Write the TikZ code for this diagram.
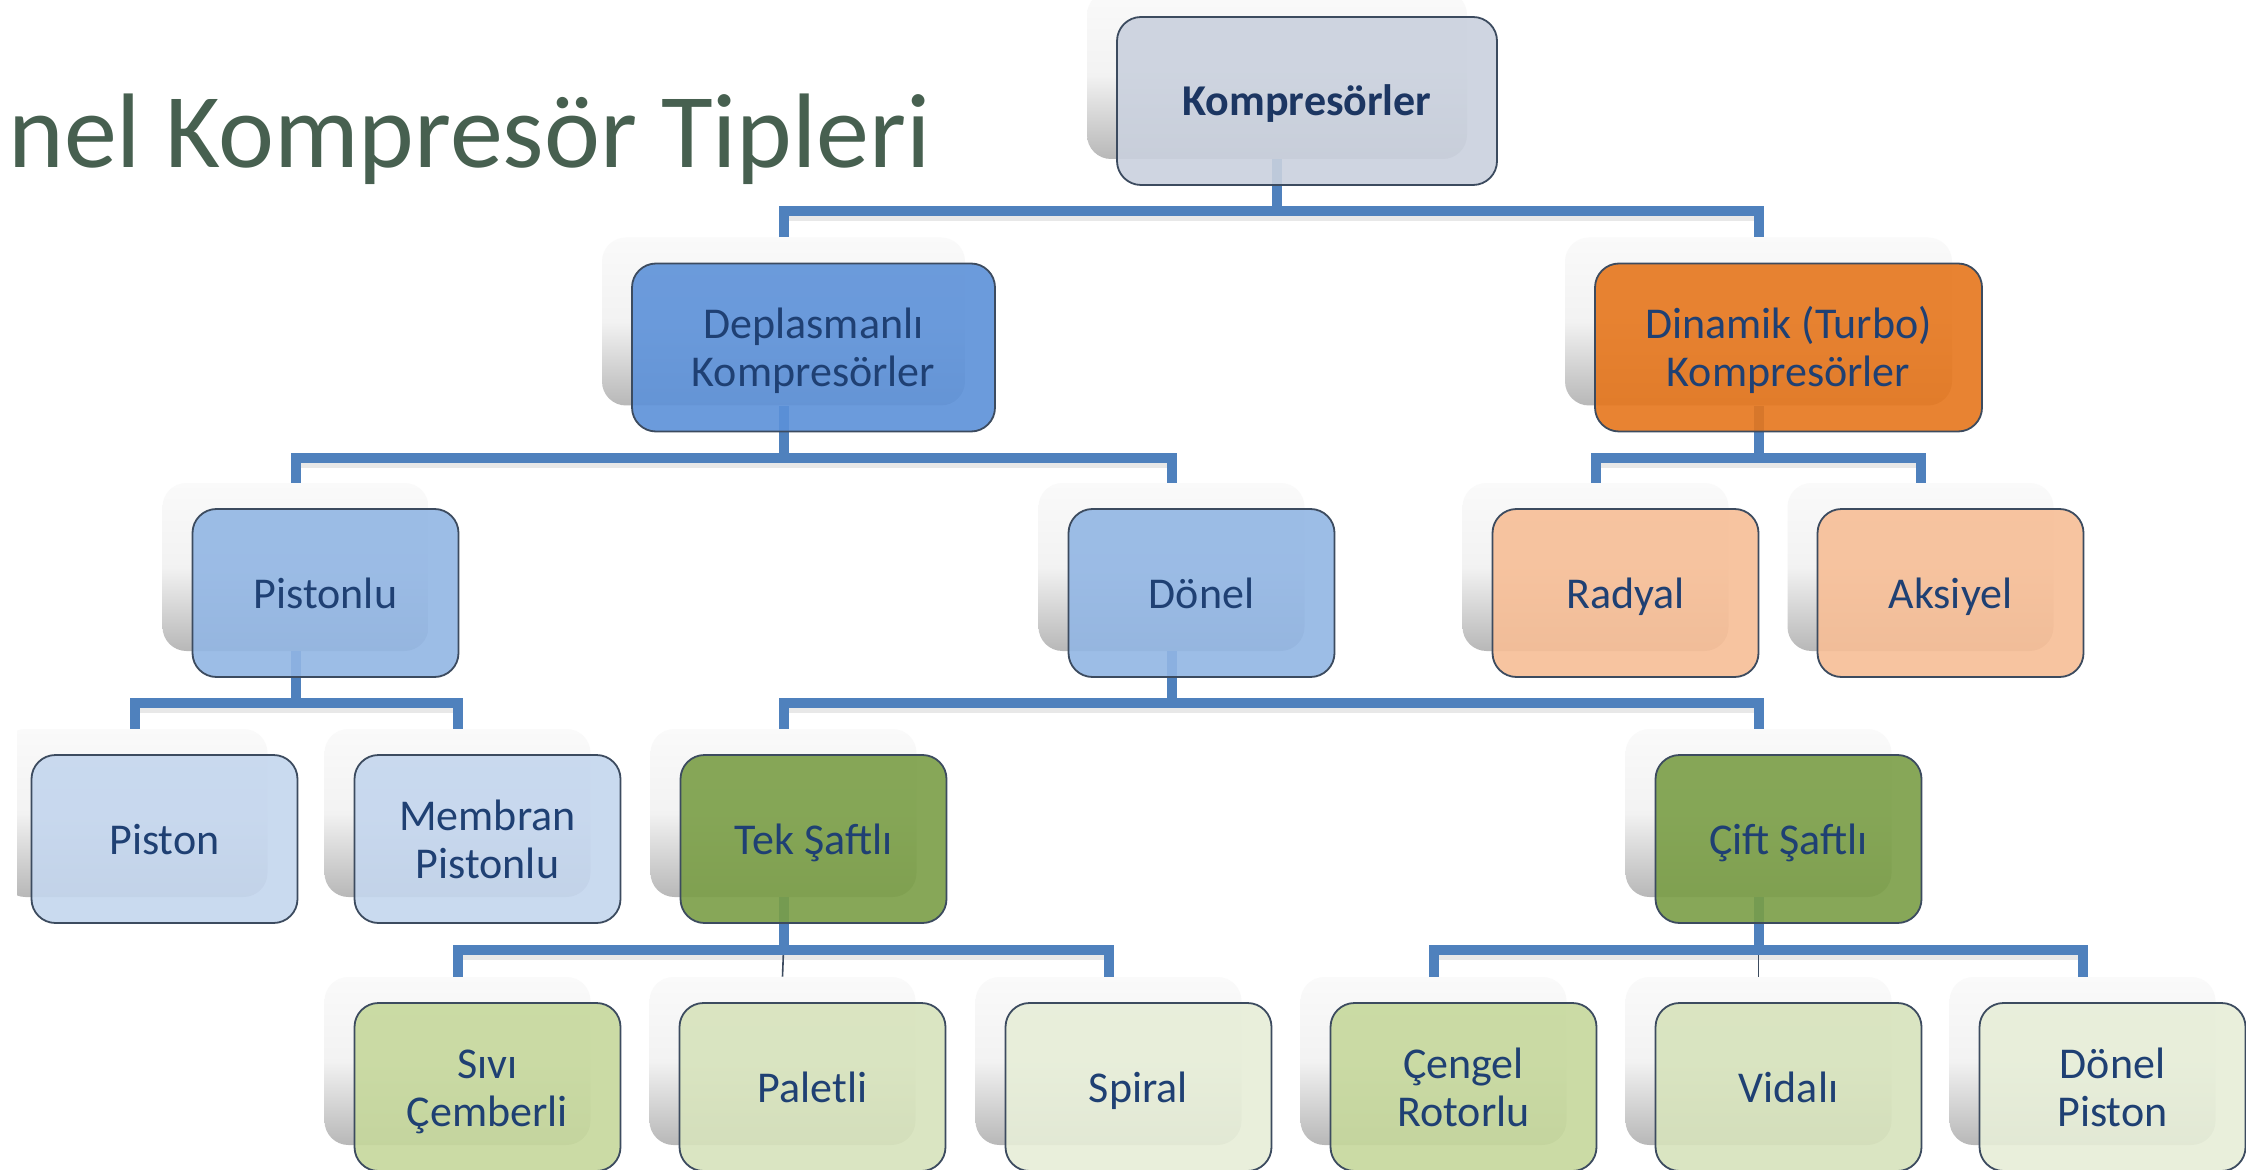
\documentclass[tikz,border=0pt]{standalone}
\usepackage{fontspec}
\setmainfont{Carlito}
\usetikzlibrary{calc}
\definecolor{titlecol}{RGB}{71,96,80}
\definecolor{txtcol}{RGB}{31,64,115}
\definecolor{txtbold}{RGB}{28,54,98}
\definecolor{bordcol}{RGB}{60,75,95}
\definecolor{conncol}{RGB}{79,129,189}
\definecolor{kgray}{RGB}{202,209,222}
\definecolor{dblue}{RGB}{92,145,217}
\definecolor{dorange}{RGB}{230,118,28}
\definecolor{lblue}{RGB}{146,182,228}
\definecolor{peach}{RGB}{247,190,150}
\definecolor{pblue}{RGB}{196,214,238}
\definecolor{olive}{RGB}{122,158,70}
\definecolor{gone}{RGB}{198,216,156}
\definecolor{gtwo}{RGB}{215,227,188}
\definecolor{gthree}{RGB}{231,238,216}
\pgfdeclarelayer{bg}
\pgfdeclarelayer{shad}
\pgfdeclarelayer{conn}
\pgfsetlayers{bg,shad,conn,main}
\newcommand\tl[1]{\rule{0pt}{15pt}\smash{#1}}
\tikzset{
  shadbox/.style={rectangle, rounded corners=12pt, minimum height=84pt, inner sep=0pt,
    top color=black!2, bottom color=black!28, middle color=black!5},
  mainbox/.style={rectangle, rounded corners=12pt, minimum height=84pt, inner sep=0pt,
    draw=bordcol, line width=0.9pt, fill opacity=0.9, text opacity=1, align=center,
    text=txtcol, font=\fontsize{22}{24}\selectfont},
  connline/.style={draw=conncol, line width=5pt, line cap=butt, line join=miter},
  thinline/.style={draw=bordcol, line width=0.8pt},
  connshadow/.style={draw=black!25, line width=4pt, opacity=0.35},
}
\newcommand\mkbox[6]{%
  \begin{pgfonlayer}{shad}
    \node[shadbox, minimum width=#4*0.5pt] (#1s) at (#2-30,#3-26) {};
  \end{pgfonlayer}
  \node[mainbox, minimum width=#4*0.5pt, fill=#5] (#1) at (#2,#3) {#6};
}
\begin{document}
\begin{tikzpicture}[x=0.5pt,y=-0.5pt]
\useasboundingbox (0,0) rectangle (2246,1170);
\begin{pgfonlayer}{bg}
\fill[white] (0,0) rectangle (2246,1170);
\end{pgfonlayer}

\node[anchor=base west, inner sep=0pt, text=titlecol, font=\fontsize{53}{60}\selectfont] (title) at (8,168) {nel Kompresör Tipleri};

% level 1
\mkbox{K}{1307}{101}{380}{kgray}{\tl{\textbf{\color{txtbold}Kompresörler}}}
% level 2
\mkbox{D}{813.5}{347.5}{363}{dblue}{\tl{Deplasmanlı}\\\tl{Kompresörler}}
\mkbox{T}{1788.5}{347.5}{387}{dorange}{\tl{Dinamik (Turbo)}\\\tl{Kompresörler}}
% level 3
\mkbox{Pl}{325.5}{593}{266}{lblue}{\tl{Pistonlu}}
\mkbox{Dn}{1201.5}{593}{266}{lblue}{\tl{Dönel}}
\mkbox{R}{1625.5}{593}{266}{peach}{\tl{Radyal}}
\mkbox{A}{1950.5}{593}{266}{peach}{\tl{Aksiyel}}
% level 4
\mkbox{Ps}{164.5}{839}{266}{pblue}{\tl{Piston}}
\mkbox{M}{487.5}{839}{266}{pblue}{\tl{Membran}\\\tl{Pistonlu}}
\mkbox{Tk}{813.5}{839}{266}{olive}{\tl{Tek Şaftlı}}
\mkbox{C}{1788.5}{839}{266}{olive}{\tl{Çift Şaftlı}}
% level 5
\mkbox{Sv}{487.5}{1087}{266}{gone}{\tl{Sıvı}\\\tl{Çemberli}}
\mkbox{Pa}{812.5}{1087}{266}{gtwo}{\tl{Paletli}}
\mkbox{Sp}{1138.5}{1087}{266}{gthree}{\tl{Spiral}}
\mkbox{Cg}{1463.5}{1087}{266}{gone}{\tl{Çengel}\\\tl{Rotorlu}}
\mkbox{V}{1788.5}{1087}{266}{gtwo}{\tl{Vidalı}}
\mkbox{DP}{2112.5}{1087}{266}{gthree}{\tl{Dönel}\\\tl{Piston}}

% junctions
\coordinate (j1) at (Ks.south |- 0,211);
\coordinate (j2) at (Ds.south |- 0,458);
\coordinate (j3) at (Ts.south |- 0,458);
\coordinate (j4) at (Pls.south |- 0,703);
\coordinate (j5) at (Dns.south |- 0,703);
\coordinate (j6) at (Tks.south |- 0,950);
\coordinate (j7) at (Cs.south |- 0,950);

\begin{pgfonlayer}{conn}
  % slide edge: the left margin of the picture is plain white
  \fill[white] (0,700) rectangle (17,940);
  % soft shadows under horizontals
  \draw[connshadow] ([yshift=-3pt]Ds.north |- j1) -- ([yshift=-3pt]Ts.north |- j1);
  \draw[connshadow] ([yshift=-3pt]Pls.north |- j2) -- ([yshift=-3pt]Dns.north |- j2);
  \draw[connshadow] ([yshift=-3pt]Rs.north |- j3) -- ([yshift=-3pt]As.north |- j3);
  \draw[connshadow] ([yshift=-3pt]Pss.north |- j4) -- ([yshift=-3pt]Ms.north |- j4);
  \draw[connshadow] ([yshift=-3pt]Tks.north |- j5) -- ([yshift=-3pt]Cs.north |- j5);
  \draw[connshadow] ([yshift=-3pt]Svs.north |- j6) -- ([yshift=-3pt]Sps.north |- j6);
  \draw[connshadow] ([yshift=-3pt]Cgs.north |- j7) -- ([yshift=-3pt]DPs.north |- j7);
  % thin middle drops
  \draw[thinline] (j6) -- (Pas.north);
  \draw[thinline] (j7) -- (Vs.north);
  % connectors
  \draw[connline] (Ks.south) -- (j1);
  \draw[connline] (Ds.north) |- (j1) -| (Ts.north);
  \draw[connline] (Ds.south) -- (j2);
  \draw[connline] (Pls.north) |- (j2) -| (Dns.north);
  \draw[connline] (Ts.south) -- (j3);
  \draw[connline] (Rs.north) |- (j3) -| (As.north);
  \draw[connline] (Pls.south) -- (j4);
  \draw[connline] (Pss.north) |- (j4) -| (Ms.north);
  \draw[connline] (Dns.south) -- (j5);
  \draw[connline] (Tks.north) |- (j5) -| (Cs.north);
  \draw[connline] (Tks.south) -- (j6);
  \draw[connline] (Svs.north) |- (j6) -| (Sps.north);
  \draw[connline] (Cs.south) -- (j7);
  \draw[connline] (Cgs.north) |- (j7) -| (DPs.north);
\end{pgfonlayer}
\end{tikzpicture}
\end{document}
